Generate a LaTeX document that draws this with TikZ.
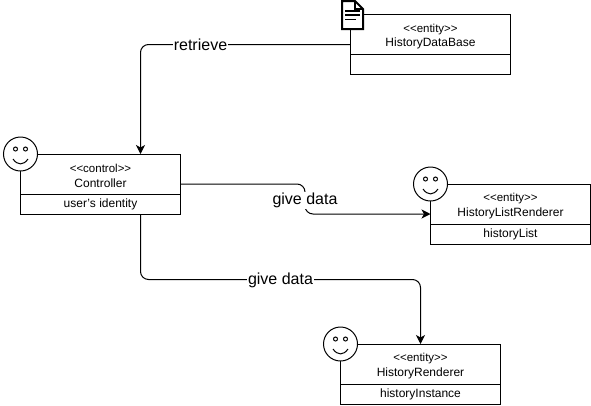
\documentclass[tikz,border=0pt]{standalone}
\usepackage{fontspec}
\setmainfont{Liberation Sans}
\usetikzlibrary{positioning,arrows.meta}
\tikzset{whole box/.style={rectangle,minimum width=160pt,minimum height=60pt,inner sep=0pt,outer sep=0pt},
         title part/.style={rectangle,draw,line width=1pt,minimum width=160pt,minimum height=40pt,inner sep=0pt,outer sep=0pt,align=center,font=\fontsize{12}{14.5}\selectfont},
         attr part/.style={rectangle,draw,line width=1pt,minimum width=160pt,minimum height=20pt,inner sep=0pt,outer sep=0pt,font=\fontsize{12}{14}\selectfont},
         face/.style={circle,draw,fill=white,line width=1pt,minimum size=34pt,inner sep=0pt,outer sep=0pt},
         link/.style={line width=1pt,rounded corners=8pt},
         tip/.style={-{Stealth[length=9pt,width=9pt,inset=2.5pt]}},
         link label/.style={fill=white,inner sep=1pt,font=\fontsize{16}{18}\selectfont},
            }
\newcommand{\stereo}[1]{\rule{0pt}{12pt}{\fontsize{11.5}{12}\selectfont {<}{<}#1{>}{>}}}

\begin{document}
\begin{tikzpicture}[x=1pt,y=-1pt]
    \useasboundingbox (0,0) rectangle (591,405);

    \node[whole box] (database) at (430.5,44.5) {};
    \node[title part,anchor=north] (database title) at (database.north) {\stereo{entity}\\HistoryDataBase};
    \node[attr part] (database attr) [below = 0pt of database title] {};

    \node[whole box] (controller) at (100.5,184) {};
    \node[title part,anchor=north] (controller title) at (controller.north) {\stereo{control}\\Controller};
    \node[attr part] (controller attr) [below = 0pt of controller title] {user\symbol{39}s identity};

    \node[whole box] (listrenderer) at (510.5,214) {};
    \node[title part,anchor=north] (listrenderer title) at (listrenderer.north) {\stereo{entity}\\HistoryListRenderer};
    \node[attr part] (listrenderer attr) [below = 0pt of listrenderer title] {historyList};

    \node[whole box] (renderer) at (420.5,374) {};
    \node[title part,anchor=north] (renderer title) at (renderer.north) {\stereo{entity}\\HistoryRenderer};
    \node[attr part] (renderer attr) [below = 0pt of renderer title] {historyInstance};

    \coordinate (retrieve bend) at (140.5,44.5);
    \coordinate (list bend top) at (305,184);
    \coordinate (list bend bottom) at (305,214);
    \coordinate (renderer bend left) at (140.5,279.5);
    \coordinate (renderer bend right) at (420.5,279.5);

    \draw[link,tip] (database.west) -- (retrieve bend) -- (retrieve bend |- controller.north);
    \draw[link,tip] (controller.east) -- (list bend top) -- (list bend bottom) -- (listrenderer.west);
    \draw[link,tip] (retrieve bend |- controller.south) -- (renderer bend left) -- (renderer bend right) -- (renderer.north);

    \node[link label] (retrieve label) at (200.5,44.5) {retrieve};
    \node[link label] (list label) at (305,200.5) {give data};
    \node[link label] (renderer label) at (280.5,280.5) {give data};

    \node[face] (controller face) at (controller.north west) {};
    \node[face] (listrenderer face) at (listrenderer.north west) {};
    \node[face] (renderer face) at (renderer.north west) {};

    \foreach \f in {controller face,listrenderer face,renderer face} {
      \draw[line width=1pt] ([shift={(-5,-5)}]\f.center) circle (2pt);
      \draw[line width=1pt] ([shift={(5,-5)}]\f.center) circle (2pt);
      \draw[line width=1pt] ([shift={(-7.5,5)}]\f.center) .. controls ([shift={(-3,11.5)}]\f.center) and ([shift={(3,11.5)}]\f.center) .. ([shift={(7.5,5)}]\f.center);
    }

    % document icon
    \draw[line width=2pt,fill=white,line join=miter] (342,1) -- (355,1) -- (363,9) -- (363,29) -- (342,29) -- cycle;
    \draw[line width=2pt] (355,1) -- (355,9) -- (363,9);
    \draw[line width=1.5pt] (345,11) -- (360,11);
    \draw[line width=1.5pt] (345,15) -- (360,15);
    \draw[line width=1.5pt] (345,19.5) -- (356,19.5);
\end{tikzpicture}
\end{document}
